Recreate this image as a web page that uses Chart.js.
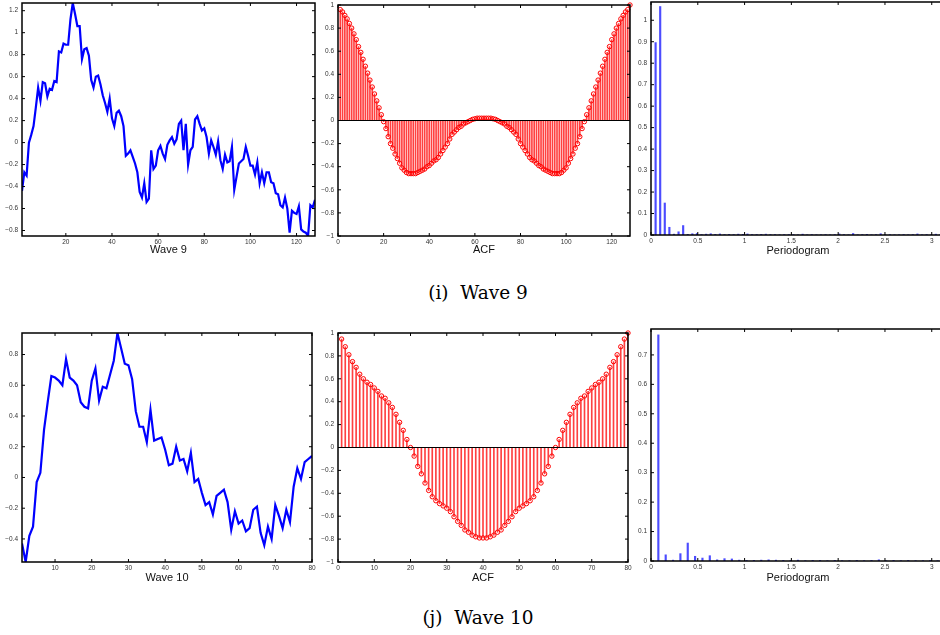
<!DOCTYPE html>
<html lang="en">
<head>
<meta charset="UTF-8">
<title>Wave 9 / Wave 10</title>
<script src="https://cdn.jsdelivr.net/npm/chart.js"></script>
<style>
  html, body { margin: 0; padding: 0; background: #fff; width: 940px; height: 635px; overflow: hidden; position: relative; }
  canvas { position: absolute; }
  .caption { position: absolute; font-family: "DejaVu Serif", serif; font-size: 18.5px; white-space: pre; color: #000; transform: translate(-50%, -50%); }
</style>
</head>
<body>
<div class="caption" style="left:478px; top:292px">(i)  Wave 9</div>
<div class="caption" style="left:478px; top:617px">(j)  Wave 10</div>
<script>
// --- wave 9 ---
const wave9 = [
  -0.44, -0.27, -0.30, 0.00, 0.07, 0.15, 0.32, 0.50, 0.38, 0.55,
  0.54, 0.42, 0.49, 0.48, 0.56, 0.55, 0.83, 0.82, 0.90, 0.89,
  0.89, 1.12, 1.27, 1.17, 1.06, 1.06, 0.76, 0.85, 0.86, 0.79,
  0.57, 0.50, 0.60, 0.61, 0.53, 0.43, 0.36, 0.28, 0.40, 0.22,
  0.15, 0.27, 0.29, 0.24, 0.15, -0.12, -0.10, -0.07, -0.13, -0.19,
  -0.27, -0.45, -0.50, -0.37, -0.54, -0.51, -0.07, -0.24, -0.21, -0.07,
  -0.03, -0.10, -0.15, -0.02, 0.02, 0.05, -0.01, 0.03, 0.17, 0.20,
  -0.07, 0.17, -0.20, -0.07, -0.04, 0.21, 0.24, 0.17, 0.11, 0.13,
  0.05, -0.10, 0.02, -0.04, -0.11, 0.01, -0.16, -0.24, -0.11, -0.18,
  -0.17, -0.04, -0.43, -0.31, -0.19, -0.17, -0.15, -0.04, -0.12, -0.21,
  -0.21, -0.29, -0.18, -0.37, -0.27, -0.37, -0.27, -0.27, -0.36, -0.37,
  -0.46, -0.47, -0.57, -0.59, -0.50, -0.60, -0.82, -0.62, -0.64, -0.65,
  -0.58, -0.79, -0.81, -0.82, -0.85, -0.57, -0.59, -0.52
];
const acf9 = [
  0.96, 0.94, 0.91, 0.88, 0.84, 0.80, 0.75, 0.70, 0.64, 0.59,
  0.53, 0.47, 0.41, 0.35, 0.29, 0.23, 0.17, 0.11, 0.05, -0.01,
  -0.07, -0.14, -0.20, -0.24, -0.29, -0.33, -0.37, -0.41, -0.43, -0.45,
  -0.46, -0.46, -0.46, -0.46, -0.45, -0.44, -0.43, -0.42, -0.40, -0.39,
  -0.37, -0.35, -0.34, -0.32, -0.29, -0.26, -0.23, -0.20, -0.16, -0.12,
  -0.10, -0.08, -0.06, -0.05, -0.03, -0.02, -0.01, 0.00, 0.01, 0.015,
  0.02, 0.02, 0.02, 0.02, 0.02, 0.02, 0.02, 0.015, 0.01, 0.00,
  -0.01, -0.02, -0.03, -0.05, -0.06, -0.08, -0.10, -0.12, -0.16, -0.20,
  -0.23, -0.26, -0.29, -0.32, -0.34, -0.35, -0.37, -0.39, -0.40, -0.42,
  -0.43, -0.44, -0.45, -0.46, -0.46, -0.46, -0.46, -0.45, -0.43, -0.41,
  -0.37, -0.33, -0.29, -0.24, -0.20, -0.14, -0.07, -0.01, 0.05, 0.11,
  0.17, 0.23, 0.29, 0.35, 0.41, 0.47, 0.53, 0.59, 0.64, 0.70,
  0.75, 0.80, 0.84, 0.88, 0.91, 0.94, 0.96, 1.00
];
const pgram9 = [
  0.896, 1.064, 0.149, 0.036, 0.004, 0.015, 0.044, 0.003, 0.006, 0.007,
  0.002, 0.004, 0.006, 0.003, 0.005, 0.002, 0.003, 0.002, 0.004, 0.003,
  0.005, 0.002, 0.002, 0.003, 0.004, 0.002, 0.002, 0.001, 0.002, 0.002,
  0.002, 0.001, 0.004, 0.001, 0.002, 0.001, 0.001, 0.002, 0.001, 0.002,
  0.005, 0.002, 0.001, 0.007, 0.001, 0.002, 0.003, 0.001, 0.002, 0.006,
  0.001, 0.002, 0.001, 0.001, 0.002, 0.001, 0.002, 0.005, 0.001, 0.002,
  0.001, 0.004, 0.002, 0.001
];

// --- wave 10 ---
const wave10 = [
  -0.43, -0.55, -0.38, -0.32, -0.03, 0.03, 0.31, 0.49, 0.66, 0.65,
  0.63, 0.60, 0.77, 0.65, 0.63, 0.60, 0.49, 0.46, 0.45, 0.63,
  0.71, 0.50, 0.59, 0.58, 0.67, 0.76, 0.94, 0.84, 0.74, 0.73,
  0.64, 0.43, 0.33, 0.33, 0.23, 0.44, 0.24, 0.25, 0.26, 0.18,
  0.08, 0.09, 0.20, 0.11, 0.12, 0.04, 0.16, -0.03, -0.01, -0.10,
  -0.18, -0.16, -0.24, -0.12, -0.10, -0.08, -0.16, -0.34, -0.22, -0.30,
  -0.28, -0.35, -0.33, -0.21, -0.19, -0.36, -0.44, -0.32, -0.40, -0.18,
  -0.25, -0.33, -0.21, -0.29, -0.06, 0.06, -0.01, 0.10, 0.12, 0.14
];
const acf10 = [
  0.947, 0.88, 0.81, 0.75, 0.70, 0.64, 0.60, 0.57, 0.55, 0.52,
  0.49, 0.45, 0.43, 0.39, 0.35, 0.29, 0.22, 0.15, 0.07, 0.00,
  -0.075, -0.165, -0.23, -0.31, -0.375, -0.43, -0.465, -0.49, -0.51, -0.53,
  -0.56, -0.605, -0.645, -0.68, -0.72, -0.74, -0.765, -0.78, -0.79, -0.79,
  -0.79, -0.78, -0.765, -0.74, -0.72, -0.68, -0.645, -0.605, -0.56, -0.53,
  -0.51, -0.49, -0.465, -0.43, -0.375, -0.31, -0.23, -0.165, -0.075, 0.00,
  0.07, 0.15, 0.22, 0.29, 0.35, 0.39, 0.43, 0.45, 0.49, 0.52,
  0.55, 0.57, 0.60, 0.64, 0.70, 0.75, 0.81, 0.88, 0.947, 1.00
];
const pgram10 = [
  0.768, 0.021, 0.003, 0.025, 0.061, 0.016, 0.010, 0.018, 0.004, 0.008,
  0.007, 0.003, 0.002, 0.002, 0.003, 0.004, 0.003, 0.002, 0.002, 0.003,
  0.001, 0.002, 0.002, 0.001, 0.002, 0.001, 0.001, 0.002, 0.001, 0.002,
  0.004, 0.001, 0.002, 0.001, 0.002, 0.001, 0.001, 0.002, 0.001, 0.001
];

// --- tick values ---
const wave9XTicks = [20, 40, 60, 80, 100, 120];
const wave9YTicks = [-0.8, -0.6, -0.4, -0.2, 0, 0.2, 0.4, 0.6, 0.8, 1, 1.2];
const acf9XTicks = [0, 20, 40, 60, 80, 100, 120];
const acfYTicks = [-1, -0.8, -0.6, -0.4, -0.2, 0, 0.2, 0.4, 0.6, 0.8, 1];
const pgramXTicks = [0, 0.5, 1, 1.5, 2, 2.5, 3];
const pgram9YTicks = [0, 0.1, 0.2, 0.3, 0.4, 0.5, 0.6, 0.7, 0.8, 0.9, 1];
const wave10XTicks = [10, 20, 30, 40, 50, 60, 70, 80];
const wave10YTicks = [-0.4, -0.2, 0, 0.2, 0.4, 0.6, 0.8];
const acf10XTicks = [0, 10, 20, 30, 40, 50, 60, 70, 80];
const pgram10YTicks = [0, 0.1, 0.2, 0.3, 0.4, 0.5, 0.6, 0.7];

Chart.defaults.font.family = '"Liberation Sans", Arial, Helvetica, sans-serif';
Chart.defaults.color = '#222';

const YW = 24;   // fixed y-axis width
const fmt = v => String(Math.round(v * 100) / 100).replace('-', '\u2212');

// axes box with inward tick marks on all four sides
const frame = {
  id: 'frame',
  afterDraw(chart) {
    const { ctx, chartArea: a, scales: { x, y } } = chart;
    const len = 3;
    ctx.save();
    ctx.strokeStyle = '#000';
    ctx.lineWidth = 1;
    ctx.beginPath();
    x.ticks.forEach(t => {
      const px = x.getPixelForValue(t.value);
      ctx.moveTo(px, a.bottom); ctx.lineTo(px, a.bottom - len);
      ctx.moveTo(px, a.top); ctx.lineTo(px, a.top + len);
    });
    y.ticks.forEach(t => {
      const py = y.getPixelForValue(t.value);
      ctx.moveTo(a.left, py); ctx.lineTo(a.left + len, py);
      ctx.moveTo(a.right, py); ctx.lineTo(a.right - len, py);
    });
    ctx.stroke();
    ctx.lineWidth = 1.5;
    ctx.strokeRect(a.left, a.top, a.right - a.left, a.bottom - a.top);
    ctx.restore();
  }
};

// black baseline at zero for the stem plots
const zeroLine = {
  id: 'zeroLine',
  afterDatasetsDraw(chart) {
    const { ctx, chartArea: a, scales: { y } } = chart;
    const py = y.getPixelForValue(0);
    ctx.save();
    ctx.strokeStyle = '#000';
    ctx.lineWidth = 1;
    ctx.beginPath();
    ctx.moveTo(a.left, py); ctx.lineTo(a.right, py);
    ctx.stroke();
    ctx.restore();
  }
};

function axis(min, max, ticks, extra) {
  return Object.assign({
    type: 'linear', min: min, max: max, offset: false,
    grid: { display: false, drawTicks: false },
    border: { display: false },
    ticks: { autoSkip: false, maxRotation: 0, padding: 2, color: '#333', font: { size: 6.5 }, callback: fmt },
    afterBuildTicks: s => { s.ticks = ticks.map(v => ({ value: v })); }
  }, extra);
}

function panel(box, xh, xs, ys, title, datasets, extraPlugins) {
  const cl = box.left - YW, ct = box.top - 8;
  const w = box.right - cl + 8, h = box.bottom + xh - ct;
  const cv = document.createElement('canvas');
  cv.width = w; cv.height = h;
  cv.style.cssText = `left:${cl}px;top:${ct}px;width:${w}px;height:${h}px`;
  document.body.appendChild(cv);
  xs.title = { display: true, text: title, color: '#111', font: { size: 11 }, padding: 0 };
  xs.afterFit = s => { s.height = xh; };
  ys.ticks.padding = 4;
  ys.afterFit = s => { s.width = YW; };
  return new Chart(cv, {
    type: 'bar',
    data: { datasets: datasets },
    options: {
      responsive: false, animation: false, devicePixelRatio: 1,
      layout: { padding: { left: 0, top: box.top - ct, right: 8, bottom: 0 } },
      plugins: { legend: { display: false }, tooltip: { enabled: false } },
      scales: { x: xs, y: ys }
    },
    plugins: [frame].concat(extraPlugins || [])
  });
}

const seriesLine = vals => [{
  type: 'line',
  data: vals.map((v, i) => ({ x: i + 1, y: v })),
  borderColor: '#0000ff', borderWidth: 2.2, pointRadius: 0, tension: 0
}];

const stems = vals => {
  const pts = vals.map((v, i) => ({ x: i + 1, y: v }));
  return [
    { type: 'line', data: pts, showLine: false, clip: false,
      pointRadius: 2.2, pointBorderWidth: 1, pointBorderColor: '#ff0000', pointBackgroundColor: 'rgba(0,0,0,0)' },
    { type: 'bar', data: pts, barThickness: 1, backgroundColor: 'rgba(255,0,0,0.75)' }
  ];
};

const spectrum = vals => [{
  type: 'bar',
  data: vals.map((v, i) => ({ x: 2 * Math.PI * (i + 1) / (2 * vals.length), y: v })),
  barThickness: 1.5, backgroundColor: 'rgba(0,0,255,0.7)'
}];

// top row
panel({ left: 22, top: 3, right: 315, bottom: 236 }, 21,
  axis(1, wave9.length, wave9XTicks), axis(Math.min(...wave9), Math.max(...wave9), wave9YTicks),
  'Wave 9', seriesLine(wave9));
panel({ left: 338, top: 5, right: 630, bottom: 236 }, 21,
  axis(0, acf9.length, acf9XTicks), axis(-1, 1, acfYTicks),
  'ACF', stems(acf9), [zeroLine]);
panel({ left: 651, top: 2, right: 945, bottom: 235 }, 23,
  axis(0, Math.PI, pgramXTicks), axis(0, 1.085, pgram9YTicks),
  'Periodogram', spectrum(pgram9));

// bottom row
panel({ left: 22, top: 333, right: 312, bottom: 562 }, 23,
  axis(1, wave10.length, wave10XTicks), axis(Math.min(...wave10), Math.max(...wave10), wave10YTicks),
  'Wave 10', seriesLine(wave10));
panel({ left: 338, top: 333, right: 628, bottom: 562 }, 23,
  axis(0, acf10.length, acf10XTicks), axis(-1, 1, acfYTicks),
  'ACF', stems(acf10), [zeroLine]);
panel({ left: 651, top: 329, right: 945, bottom: 561 }, 24,
  axis(0, Math.PI, pgramXTicks), axis(0, 0.788, pgram10YTicks),
  'Periodogram', spectrum(pgram10));
</script>
</body>
</html>
